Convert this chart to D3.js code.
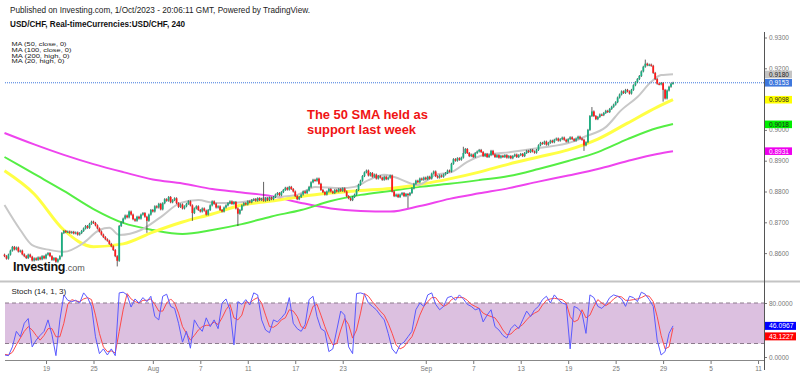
<!DOCTYPE html>
<html lang="en">
<head>
<meta charset="utf-8">
<title>USD/CHF 240</title>
<script src="https://cdn.jsdelivr.net/npm/d3@7"></script>
<style>
  body { margin: 0; background: #fff; }
  svg { display: block; font-family: Arial, "Liberation Sans", sans-serif; }
</style>
</head>
<body>
<script>
// 4h closes, first bar ~Jul 13 12:00, last bar Sep 29 20:00 (open = previous close)
var firstOpen = 0.8595;
var closes = [
  0.8590,0.8582,0.8595,0.8608,0.8620,0.8612,0.8618,0.8605,0.8608,0.8596,
  0.8590,0.8584,0.8595,0.8588,0.8576,0.8583,0.8578,0.8586,0.8580,0.8590,
  0.8583,0.8595,0.8600,0.8590,0.8578,0.8584,0.8572,0.8580,0.8590,0.8665,
  0.8672,0.8668,0.8670,0.8666,0.8669,0.8664,0.8667,0.8660,0.8665,0.8672,
  0.8680,0.8688,0.8682,0.8695,0.8702,0.8698,0.8690,0.8680,0.8670,0.8660,
  0.8652,0.8645,0.8640,0.8630,0.8622,0.8610,0.8590,0.8575,0.8688,0.8700,
  0.8712,0.8722,0.8716,0.8735,0.8725,0.8710,0.8705,0.8718,0.8712,0.8725,
  0.8730,0.8718,0.8705,0.8725,0.8740,0.8735,0.8752,0.8748,0.8760,0.8742,
  0.8762,0.8775,0.8770,0.8782,0.8765,0.8772,0.8778,0.8762,0.8750,0.8758,
  0.8745,0.8752,0.8760,0.8768,0.8755,0.8730,0.8745,0.8752,0.8740,0.8735,
  0.8745,0.8738,0.8725,0.8740,0.8755,0.8768,0.8760,0.8748,0.8752,0.8740,
  0.8735,0.8748,0.8755,0.8762,0.8768,0.8760,0.8766,0.8745,0.8728,0.8740,
  0.8755,0.8762,0.8758,0.8768,0.8765,0.8772,0.8775,0.8770,0.8778,0.8772,
  0.8776,0.8770,0.8778,0.8772,0.8780,0.8775,0.8782,0.8790,0.8795,0.8788,
  0.8798,0.8805,0.8812,0.8806,0.8815,0.8808,0.8800,0.8785,0.8775,0.8782,
  0.8790,0.8800,0.8795,0.8803,0.8815,0.8830,0.8838,0.8835,0.8842,0.8825,
  0.8805,0.8798,0.8790,0.8800,0.8808,0.8800,0.8795,0.8805,0.8800,0.8808,
  0.8802,0.8810,0.8800,0.8785,0.8778,0.8772,0.8782,0.8790,0.8805,0.8822,
  0.8835,0.8850,0.8862,0.8868,0.8852,0.8860,0.8848,0.8855,0.8842,0.8850,
  0.8845,0.8838,0.8848,0.8840,0.8845,0.8852,0.8800,0.8785,0.8790,0.8782,
  0.8790,0.8795,0.8785,0.8792,0.8788,0.8795,0.8810,0.8825,0.8835,0.8830,
  0.8842,0.8838,0.8845,0.8840,0.8848,0.8842,0.8858,0.8865,0.8850,0.8845,
  0.8852,0.8848,0.8855,0.8860,0.8868,0.8865,0.8890,0.8905,0.8900,0.8908,
  0.8903,0.8910,0.8925,0.8938,0.8925,0.8915,0.8920,0.8912,0.8925,0.8930,
  0.8935,0.8928,0.8915,0.8922,0.8912,0.8918,0.8932,0.8920,0.8912,0.8918,
  0.8910,0.8916,0.8912,0.8918,0.8910,0.8915,0.8908,0.8915,0.8920,0.8912,
  0.8918,0.8922,0.8915,0.8925,0.8932,0.8928,0.8935,0.8930,0.8926,0.8935,
  0.8950,0.8958,0.8955,0.8962,0.8952,0.8958,0.8965,0.8960,0.8968,0.8972,
  0.8965,0.8970,0.8975,0.8968,0.8962,0.8970,0.8976,0.8970,0.8965,0.8972,
  0.8978,0.8972,0.8968,0.8950,0.8960,0.9000,0.9045,0.9060,0.9045,0.9035,
  0.9042,0.9050,0.9048,0.9055,0.9062,0.9058,0.9068,0.9075,0.9082,0.9090,
  0.9105,0.9115,0.9125,0.9120,0.9130,0.9125,0.9118,0.9130,0.9145,0.9155,
  0.9165,0.9175,0.9190,0.9205,0.9215,0.9210,0.9212,0.9208,0.9185,0.9165,
  0.9150,0.9148,0.9152,0.9130,0.9102,0.9128,0.9140,0.9150,0.9153
];
// the wicks that stick out
var wickIdx = [57, 72, 95, 118, 131, 204, 232, 293, 297, 324, 333];
var wickVal = [0.8560, 0.8669, 0.8708, 0.8691, 0.8828, 0.8750, 0.8942, 0.8935, 0.9071, 0.9225, 0.9095];

// moving averages, read every 15 bars
var maIdx = [0,15,30,45,60,75,90,105,120,135,150,165,180,195,210,225,240,255,270,285,300,315,330,338];
var ma50 = [0.8867,0.8792,0.8675,0.8621,0.8630,0.8668,0.8701,0.8727,0.8756,0.8769,0.8784,0.8795,0.8803,0.8810,0.8823,0.8841,0.8863,0.8889,0.8912,0.8935,0.8970,0.9022,0.9074,0.9098];
var ma100 = [0.8912,0.8857,0.8802,0.8743,0.8698,0.8675,0.8662,0.8675,0.8694,0.8719,0.8740,0.8769,0.8789,0.8802,0.8815,0.8825,0.8837,0.8850,0.8873,0.8899,0.8928,0.8970,0.9006,0.9019];
var ma200 = [0.8990,0.8953,0.8919,0.8889,0.8863,0.8839,0.8826,0.8808,0.8797,0.8785,0.8763,0.8745,0.8737,0.8735,0.8753,0.8776,0.8794,0.8811,0.8832,0.8852,0.8873,0.8899,0.8922,0.8931];
var ma20Idx = [0,8,14,23,30,40,48,53,58,69,79,89,98,106,115,132,148,157,170,177,184,192,197,209,218,226,234,243,256,270,287,293,304,312,320,327,332,338];
var ma20 = [0.8756,0.8675,0.8626,0.8610,0.8604,0.8633,0.8675,0.8682,0.8659,0.8675,0.8717,0.8763,0.8772,0.8763,0.8763,0.8779,0.8789,0.8815,0.8811,0.8815,0.8837,0.8854,0.8847,0.8821,0.8854,0.8863,0.8896,0.8919,0.8928,0.8941,0.8961,0.8977,0.9009,0.9065,0.9107,0.9156,0.9178,0.9181];

// stochastic (14,1,3), every 2nd bar
var stochK = [3,2,15,38,30,50,57,15,25,32, 38,55,33,2,55,92,84,82,84,80, 95,88,75,30,5,12,3,12,2,95,
  96,92,74,86,80,88,82,90,60,55, 90,93,75,72,50,22,38,13,55,45, 38,58,45,55,42,80,86,70,18,82,
  78,85,77,95,92,55,40,36,55,52, 58,65,88,50,42,38,48,85,90,60, 42,38,8,12,40,68,62,15,5,94,
  95,93,80,75,70,62,55,35,12,5, 18,22,30,38,70,80,75,92,95,78, 70,75,88,90,84,92,86,78,75,70,
  72,52,62,70,45,40,32,28,42,48, 42,55,68,60,70,75,85,90,80,92, 85,80,78,12,75,72,65,35,92,88,
  75,72,78,88,92,90,86,75,90,88, 82,96,93,85,75,25,3,8,35,46.0967];
var stochD = [4,3,7,18,28,38,45,40,32,25, 32,42,42,30,30,50,78,85,83,82, 86,88,85,62,35,15,8,9,6,38,
  70,94,86,82,80,84,84,86,78,68, 68,80,86,80,65,45,35,25,32,40, 45,47,47,52,48,58,70,78,58,55,
  62,82,80,85,88,80,62,45,44,48, 55,58,70,68,60,45,42,58,75,78, 62,45,30,18,20,40,57,48,28,40,
  65,94,90,82,75,68,62,50,35,18, 12,15,23,30,45,62,75,82,88,88, 80,75,78,85,88,88,88,84,78,75,
  72,65,62,60,58,50,40,33,34,40, 44,48,55,61,65,68,77,84,86,87, 86,85,80,60,52,55,70,58,62,75,
  85,80,76,80,86,90,89,84,84,85, 86,88,91,90,82,60,32,12,15,43.1227];

// date ticks (bar index of the day start) and labels
var dayIdx = [21,45,75,99,123,147,171,213,237,261,285,309,333,357,381];
var dayLabels = ["19","25","Aug","7","11","17","23","Sep","7","13","19","25","29","5","11"];
var priceTicks = [0.86,0.87,0.88,0.89,0.90,0.91,0.92,0.93];
var stochTicks = [0, 80];
var stochBand = [20, 80];

// last value tags on the price axis
var tagText = ["0.9180","0.9153","0.9098","0.9018","0.8931"];
var tagFill = ["#c4c4c4","#3f78dd","#ffff00","#00ee00","#ee00ee"];
var tagInk = ["#222","#fff","#222","#222","#fff"];
var stochTagText = ["46.0967","43.1227"];
var stochTagFill = ["#0000ff","#ff0000"];

var w = 800, h = 376;
var axisX = 764;
var left = 5;

var svg = d3.select("body").append("svg")
  .attr("width", w).attr("height", h);

var x = d3.scaleLinear().domain([0, 338]).range([4.5, 673]);
var y = d3.scaleLinear().domain([0.86, 0.93]).range([253.1, 37.5]);
var ys = d3.scaleLinear().domain([0, 100]).range([357, 289.5]);

var defs = svg.append("defs");
defs.append("clipPath").attr("id", "mainClip")
  .append("rect").attr("x", 0).attr("y", 30).attr("width", axisX).attr("height", 250);
defs.append("clipPath").attr("id", "stochClip")
  .append("rect").attr("x", left).attr("y", 283).attr("width", axisX - left).attr("height", 77);

// header texts
svg.append("text").attr("x", 10).attr("y", 13).attr("font-size", 8.2)
  .attr("textLength", 300).attr("lengthAdjust", "spacingAndGlyphs").attr("fill", "#222")
  .text("Published on Investing.com, 1/Oct/2023 - 20:06:11 GMT, Powered by TradingView.");
svg.append("text").attr("x", 10).attr("y", 27).attr("font-size", 8.2).attr("font-weight", "bold")
  .attr("textLength", 175).attr("lengthAdjust", "spacingAndGlyphs").attr("fill", "#111")
  .text("USD/CHF, Real-timeCurrencies:USD/CHF, 240");

var maNames = ["MA (50, close, 0)", "MA (100, close, 0)", "MA (200, high, 0)", "MA (20, high, 0)"];
var maNameW = [55, 60, 58, 53];
svg.selectAll("text.maname").data(maNames).enter().append("text")
  .attr("class", "maname")
  .attr("x", 11.5).attr("y", function(d, i) { return 46.3 + i * 5.6; })
  .attr("font-size", 6.1).attr("fill", "#222")
  .attr("textLength", function(d, i) { return maNameW[i]; })
  .attr("lengthAdjust", "spacingAndGlyphs")
  .text(function(d) { return d; });

// main panel
var main = svg.append("g").attr("clip-path", "url(#mainClip)");

var maLine = function(idx) {
  return d3.line()
    .x(function(d, i) { return x(idx[i]); })
    .y(function(d) { return y(d); })
    .curve(d3.curveMonotoneX);
};
main.append("path").datum(ma200).attr("d", maLine(maIdx))
  .attr("fill", "none").attr("stroke", "#ee44ee").attr("stroke-width", 2);
main.append("path").datum(ma100).attr("d", maLine(maIdx))
  .attr("fill", "none").attr("stroke", "#55ee44").attr("stroke-width", 2);
main.append("path").datum(ma50).attr("d", maLine(maIdx))
  .attr("fill", "none").attr("stroke", "#ffff44").attr("stroke-width", 3);
main.append("path").datum(ma20).attr("d", maLine(ma20Idx))
  .attr("fill", "none").attr("stroke", "#c8c8c8").attr("stroke-width", 2);

// last price dotted line
main.append("line").attr("x1", left).attr("x2", axisX)
  .attr("y1", y(closes[closes.length - 1])).attr("y2", y(closes[closes.length - 1]))
  .attr("stroke", "#3f78dd").attr("stroke-width", 1).attr("stroke-dasharray", "1,1");

// candles
var bars = closes.map(function(c, i) {
  var o = i === 0 ? firstOpen : closes[i - 1];
  return { i: i, o: o, c: c, hi: Math.max(o, c), lo: Math.min(o, c) };
});
wickIdx.forEach(function(k, j) {
  var b = bars[k];
  if (wickVal[j] > b.hi) b.hi = wickVal[j]; else b.lo = wickVal[j];
});

main.selectAll("line.wick").data(bars).enter().append("line")
  .attr("class", "wick")
  .attr("x1", function(d) { return x(d.i); }).attr("x2", function(d) { return x(d.i); })
  .attr("y1", function(d) { return y(d.hi) - 1; }).attr("y2", function(d) { return y(d.lo) + 1; })
  .attr("stroke", "#3a3a3a").attr("stroke-width", 0.8);

main.selectAll("rect.body").data(bars).enter().append("rect")
  .attr("class", "body")
  .attr("x", function(d) { return x(d.i) - 0.9; })
  .attr("width", 1.8)
  .attr("y", function(d) { return y(Math.max(d.o, d.c)); })
  .attr("height", function(d) { return Math.max(1.2, y(Math.min(d.o, d.c)) - y(Math.max(d.o, d.c))); })
  .attr("fill", function(d) { return d.c >= d.o ? "#1aae80" : "#ff1a1a"; });

// annotation
svg.append("text").attr("x", 307).attr("y", 118.5).attr("font-size", 12).attr("font-weight", "bold")
  .attr("fill", "#f01414").attr("textLength", 121).attr("lengthAdjust", "spacingAndGlyphs")
  .text("The 50 SMA held as");
svg.append("text").attr("x", 307).attr("y", 133.5).attr("font-size", 12).attr("font-weight", "bold")
  .attr("fill", "#f01414").attr("textLength", 109).attr("lengthAdjust", "spacingAndGlyphs")
  .text("support last week");

// logo
var logo = svg.append("text").attr("x", 13).attr("y", 271);
logo.append("tspan").attr("font-size", 12.5).attr("font-weight", "bold").attr("fill", "#111")
  .attr("letter-spacing", -0.3).text("Investing");
logo.append("tspan").attr("font-size", 9).attr("fill", "#555").text(".com");

// separator between panels
svg.append("line").attr("x1", 0).attr("x2", w).attr("y1", 281.5).attr("y2", 281.5)
  .attr("stroke", "#c4c4c4").attr("stroke-width", 2);

// stochastic panel
svg.append("rect").attr("x", left).attr("width", axisX - left)
  .attr("y", ys(stochBand[1])).attr("height", ys(stochBand[0]) - ys(stochBand[1]))
  .attr("fill", "#dcc0e0");
svg.selectAll("line.band").data(stochBand).enter().append("line")
  .attr("class", "band")
  .attr("x1", left).attr("x2", axisX)
  .attr("y1", function(d) { return ys(d); }).attr("y2", function(d) { return ys(d); })
  .attr("stroke", "#8c7b8c").attr("stroke-width", 1).attr("stroke-dasharray", "4,3");

var stoch = svg.append("g").attr("clip-path", "url(#stochClip)");
var sLine = d3.line()
  .x(function(d, i) { return x(i * 2); })
  .y(function(d) { return ys(d); });
stoch.append("path").datum(stochD).attr("d", sLine)
  .attr("fill", "none").attr("stroke", "#ff4a4a").attr("stroke-width", 1);
stoch.append("path").datum(stochK).attr("d", sLine)
  .attr("fill", "none").attr("stroke", "#5a5aff").attr("stroke-width", 1);

svg.append("text").attr("x", 11.5).attr("y", 293.5).attr("font-size", 8).attr("fill", "#222")
  .text("Stoch (14, 1, 3)");

// axes
var priceAxis = d3.axisRight(y).tickValues(priceTicks).tickSize(3).tickPadding(2)
  .tickFormat(d3.format(".4f"));
var gp = svg.append("g").attr("transform", "translate(" + axisX + ",0)").call(priceAxis);

var stochAxis = d3.axisRight(ys).tickValues(stochTicks).tickSize(3).tickPadding(2)
  .tickFormat(d3.format(".4f"));
var gs = svg.append("g").attr("transform", "translate(" + axisX + ",0)").call(stochAxis);

var xAxis = d3.axisBottom(x).tickValues(dayIdx).tickSize(3).tickPadding(2)
  .tickFormat(function(d, i) { return dayLabels[i]; });
var gx = svg.append("g").attr("transform", "translate(0,361)").call(xAxis);

[gp, gs, gx].forEach(function(g) {
  g.select(".domain").remove();
  g.selectAll(".tick line").attr("stroke", "#777");
  g.selectAll(".tick text").attr("font-size", 6.5).attr("fill", "#777")
    .attr("font-family", "Arial, 'Liberation Sans', sans-serif");
});

svg.append("line").attr("x1", axisX + 0.5).attr("x2", axisX + 0.5).attr("y1", 32).attr("y2", 370)
  .attr("stroke", "#555").attr("stroke-width", 1);
svg.append("line").attr("x1", left).attr("x2", axisX).attr("y1", 360.5).attr("y2", 360.5)
  .attr("stroke", "#888").attr("stroke-width", 1);

// value tags
var tagVals = tagText.map(function(t) { return +t; });
var tags = svg.selectAll("g.tag").data(tagVals).enter().append("g").attr("class", "tag")
  .attr("transform", function(d) { return "translate(" + (axisX + 1) + "," + y(d) + ")"; });
tags.append("rect").attr("x", 0).attr("y", -3.8).attr("width", 27).attr("height", 7.6)
  .attr("fill", function(d, i) { return tagFill[i]; });
tags.append("text").attr("x", 4).attr("y", 2.4).attr("font-size", 6.5)
  .attr("fill", function(d, i) { return tagInk[i]; })
  .text(function(d, i) { return tagText[i]; });

// stoch tags: the lower one is pushed down when they collide
var sPos = stochTagText.map(function(t) { return ys(+t); });
if (Math.abs(sPos[1] - sPos[0]) < 10.5) sPos[1] = sPos[0] + 10.5;
var stags = svg.selectAll("g.stag").data(sPos).enter().append("g").attr("class", "stag")
  .attr("transform", function(d) { return "translate(" + (axisX + 1) + "," + d + ")"; });
stags.append("rect").attr("x", 0).attr("y", -4).attr("width", 31).attr("height", 8)
  .attr("fill", function(d, i) { return stochTagFill[i]; });
stags.append("text").attr("x", 4).attr("y", 2.5).attr("font-size", 6.8).attr("fill", "#fff")
  .text(function(d, i) { return stochTagText[i]; });
</script>
</body>
</html>
